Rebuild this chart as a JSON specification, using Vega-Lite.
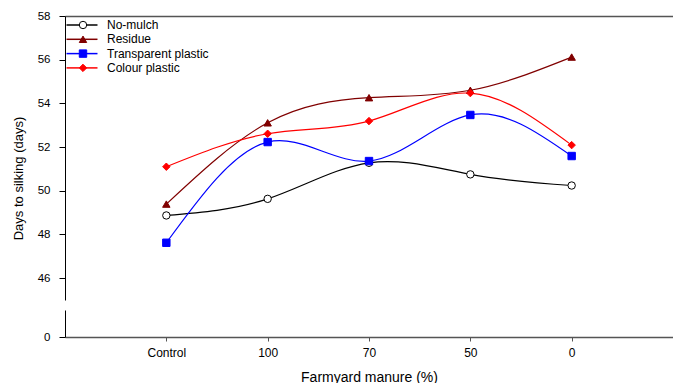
{
  "$schema": "https://vega.github.io/schema/vega-lite/v6.json",
  "background": "white",
  "padding": {"left": 12, "top": 10, "right": 0, "bottom": 0},
  "config": {
    "font": "Liberation Sans",
    "view": {"stroke": null},
    "axis": {"grid": false, "labelFont": "Liberation Sans", "titleFont": "Liberation Sans", "labelColor": "black", "titleColor": "black", "titleFontWeight": "normal", "domainColor": "black", "tickColor": "black"},
    "legend": {"labelFont": "Liberation Sans", "labelColor": "black", "labelFontSize": 12, "padding": 0, "rowPadding": 2.3}
  },
  "datasets": {
    "d": [
      {"treatment": "Control", "series": "No-mulch", "days": 48.87},
      {"treatment": "Control", "series": "Residue", "days": 49.39},
      {"treatment": "Control", "series": "Transparent plastic", "days": 47.62},
      {"treatment": "Control", "series": "Colour plastic", "days": 51.10},
      {"treatment": "100", "series": "No-mulch", "days": 49.63},
      {"treatment": "100", "series": "Residue", "days": 53.11},
      {"treatment": "100", "series": "Transparent plastic", "days": 52.23},
      {"treatment": "100", "series": "Colour plastic", "days": 52.61},
      {"treatment": "70", "series": "No-mulch", "days": 51.28},
      {"treatment": "70", "series": "Residue", "days": 54.26},
      {"treatment": "70", "series": "Transparent plastic", "days": 51.36},
      {"treatment": "70", "series": "Colour plastic", "days": 53.19},
      {"treatment": "50", "series": "No-mulch", "days": 50.75},
      {"treatment": "50", "series": "Residue", "days": 54.60},
      {"treatment": "50", "series": "Transparent plastic", "days": 53.47},
      {"treatment": "50", "series": "Colour plastic", "days": 54.47},
      {"treatment": "0", "series": "No-mulch", "days": 50.24},
      {"treatment": "0", "series": "Residue", "days": 56.12},
      {"treatment": "0", "series": "Transparent plastic", "days": 51.59},
      {"treatment": "0", "series": "Colour plastic", "days": 52.09}
    ]
  },
  "spacing": 10,
  "resolve": {
    "scale": {"y": "independent", "x": "shared"},
    "legend": {"color": "independent", "shape": "independent", "fill": "independent", "stroke": "independent"}
  },
  "vconcat": [
    {
      "width": 608,
      "height": 284,
      "data": {"name": "d"},
      "encoding": {
        "x": {
          "field": "treatment", "type": "nominal",
          "sort": ["Control", "100", "70", "50", "0"],
          "scale": {"type": "point", "padding": 1},
          "axis": {"orient": "top", "labels": false, "ticks": false, "title": null, "domainColor": "#555", "domainWidth": 1.5}
        },
        "y": {
          "field": "days", "type": "quantitative",
          "scale": {"domain": [45, 58], "zero": false, "nice": false},
          "axis": {
            "values": [46, 48, 50, 52, 54, 56, 58],
            "title": "Days to silking (days)",
            "titleFontSize": 13,
            "titlePadding": 12,
            "titleY": 162,
            "labelFontSize": 11.5,
            "labelPadding": 9,
            "tickSize": 6
          }
        }
      },
      "layer": [
        {
          "mark": {"type": "line", "interpolate": "natural", "strokeWidth": 1.2},
          "encoding": {
            "color": {
              "field": "series", "type": "nominal",
              "scale": {"domain": ["Residue", "No-mulch", "Transparent plastic", "Colour plastic"], "range": ["#800000", "#000000", "#0000ff", "#ff0000"]},
              "legend": {
                "orient": "none", "legendX": 0, "legendY": 3, "title": null,
                "values": ["No-mulch", "Residue", "Transparent plastic", "Colour plastic"],
                "symbolType": "M-4,0H4", "symbolSize": 60, "symbolStrokeWidth": 1.5,
                "symbolOffset": 11, "labelOffset": 19
              }
            }
          }
        },
        {
          "mark": {"type": "point", "filled": true, "size": 55, "opacity": 1, "strokeWidth": 1},
          "encoding": {
            "shape": {
              "field": "series", "type": "nominal",
              "scale": {"domain": ["No-mulch", "Residue", "Transparent plastic", "Colour plastic"], "range": ["circle", "triangle-up", "square", "diamond"]},
              "legend": {"orient": "none", "legendX": 12, "legendY": 3, "title": null, "labelExpr": "''", "symbolSize": 55, "symbolStrokeWidth": 1}
            },
            "fill": {
              "field": "series", "type": "nominal",
              "scale": {"domain": ["No-mulch", "Residue", "Transparent plastic", "Colour plastic"], "range": ["#ffffff", "#800000", "#0000ff", "#ff0000"]},
              "legend": {"orient": "none", "legendX": 12, "legendY": 3, "title": null, "labelExpr": "''", "symbolSize": 55, "symbolStrokeWidth": 1}
            },
            "stroke": {
              "field": "series", "type": "nominal",
              "scale": {"domain": ["No-mulch", "Residue", "Transparent plastic", "Colour plastic"], "range": ["#000000", "#800000", "#0000ff", "#ff0000"]},
              "legend": {"orient": "none", "legendX": 12, "legendY": 3, "title": null, "labelExpr": "''", "symbolSize": 55, "symbolStrokeWidth": 1}
            }
          }
        }
      ]
    },
    {
      "width": 608,
      "height": 27,
      "data": {"name": "d"},
      "mark": {"type": "point", "opacity": 0},
      "encoding": {
        "x": {
          "field": "treatment", "type": "nominal",
          "sort": ["Control", "100", "70", "50", "0"],
          "scale": {"type": "point", "padding": 1},
          "axis": {
            "title": "Farmyard manure (%)", "titleFontSize": 14, "titlePadding": 12,
            "labelFontSize": 12, "labelPadding": 6, "labelAngle": 0,
            "tickSize": 4, "tickColor": "#555", "domainColor": "#555", "domainWidth": 1.5
          }
        },
        "y": {
          "datum": 0, "type": "quantitative",
          "scale": {"domain": [0, 1], "nice": false},
          "axis": {"values": [0], "title": null, "labelFontSize": 11.5, "labelPadding": 9, "tickSize": 6}
        }
      }
    }
  ]
}
